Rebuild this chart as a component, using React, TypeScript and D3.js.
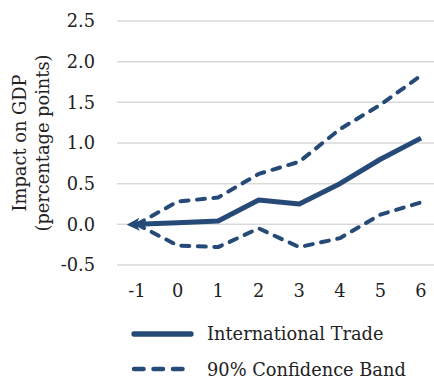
import React from "react";
import * as d3 from "d3";

// Quarters after the shock
const periods = [-1, 0, 1, 2, 3, 4, 5, 6];
// Point estimate of the GDP impact
const tradeImpact = [0, 0.02, 0.04, 0.3, 0.25, 0.5, 0.8, 1.06];
// 90% confidence band
const upperBand = [0, 0.28, 0.33, 0.62, 0.77, 1.17, 1.47, 1.83];
const lowerBand = [0, -0.26, -0.28, -0.05, -0.28, -0.17, 0.12, 0.27];
const yTicks = [-0.5, 0, 0.5, 1, 1.5, 2, 2.5];
const legendLabels = ["International Trade", "90% Confidence Band"];

const W = 434;
const H = 379;
const NAVY = "#264a78";
const GRID = "#d9d9d9";
const FONT = "'DejaVu Serif', serif";
const FS = 17.8;

export default function App() {
  const x = d3.scalePoint<number>().domain(periods).range([137, 421]);
  const y = d3.scaleLinear().domain([-0.5, 2.5]).range([265, 21]);

  const line = d3
    .line<number>()
    .x((_, i) => x(periods[i]) as number)
    .y((d) => y(d));

  return (
    <svg
      width={W}
      height={H}
      style={{ position: "absolute", left: 0, top: 0, background: "#fff" }}
    >
      <defs>
        <marker
          id="arrowStart"
          viewBox="0 0 10 10"
          refX="2"
          refY="5"
          markerWidth="2.6"
          markerHeight="3"
          orient="auto-start-reverse"
        >
          <path d="M0,0 L10,5 L0,10 L2.5,5 Z" fill={NAVY} />
        </marker>
      </defs>

      {/* horizontal gridlines */}
      {yTicks.map((t) => (
        <line
          key={t}
          x1={117}
          x2={W}
          y1={y(t)}
          y2={y(t)}
          stroke={GRID}
          strokeWidth={1.5}
        />
      ))}

      {/* y tick labels */}
      {yTicks.map((t) => (
        <text
          key={t}
          x={95}
          y={y(t)}
          dy="0.36em"
          textAnchor="end"
          fontFamily={FONT}
          fontSize={FS}
          fill="#222"
        >
          {t.toFixed(1)}
        </text>
      ))}

      {/* x tick labels */}
      {periods.map((p) => (
        <text
          key={p}
          x={x(p)}
          y={297}
          textAnchor="middle"
          fontFamily={FONT}
          fontSize={FS}
          fill="#222"
        >
          {p}
        </text>
      ))}

      {/* y axis title */}
      <text
        transform={`translate(0,${y(1)}) rotate(-90)`}
        textAnchor="middle"
        fontFamily={FONT}
        fontSize={FS}
        fill="#222"
      >
        <tspan x={0} y={26}>
          Impact on GDP
        </tspan>
        <tspan x={0} y={49}>
          (percentage points)
        </tspan>
      </text>

      {/* confidence band */}
      {[upperBand, lowerBand].map((band, i) => (
        <path
          key={i}
          d={line(band) ?? ""}
          fill="none"
          stroke={NAVY}
          strokeWidth={4}
          strokeDasharray="8 8.5"
          strokeLinecap="round"
          strokeLinejoin="round"
        />
      ))}

      {/* point estimate */}
      <path
        d={line(tradeImpact) ?? ""}
        fill="none"
        stroke={NAVY}
        strokeWidth={5}
        strokeLinejoin="round"
        markerStart="url(#arrowStart)"
      />

      {/* legend */}
      <line
        x1={134}
        x2={191}
        y1={334}
        y2={334}
        stroke={NAVY}
        strokeWidth={5.3}
        strokeLinecap="round"
      />
      <text x={207} y={340} fontFamily={FONT} fontSize={FS} fill="#222">
        {legendLabels[0]}
      </text>
      <line
        x1={134}
        x2={184}
        y1={369}
        y2={369}
        stroke={NAVY}
        strokeWidth={4.5}
        strokeDasharray="9.5 10"
        strokeLinecap="round"
      />
      <text x={207} y={376} fontFamily={FONT} fontSize={FS} fill="#222">
        {legendLabels[1]}
      </text>
    </svg>
  );
}
